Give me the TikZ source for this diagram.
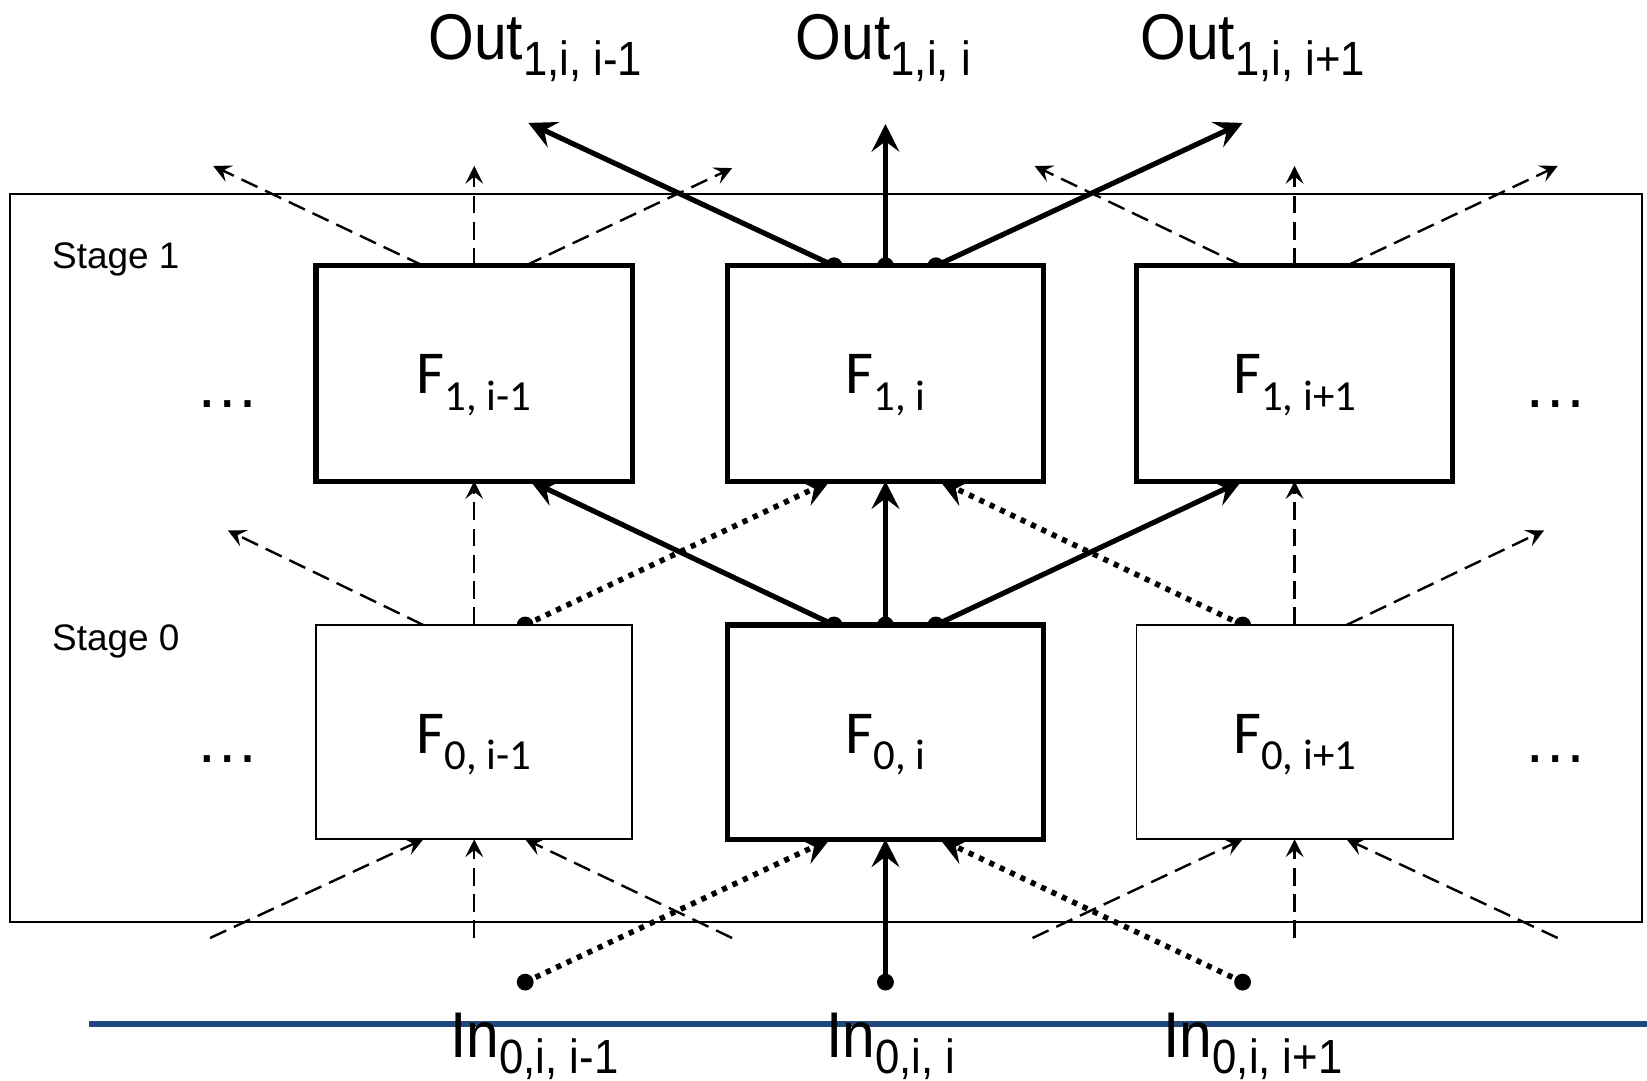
\documentclass[tikz,border=0pt]{standalone}
\usepackage{fontspec}
\usepackage{graphicx}
\setmainfont{Liberation Sans}
\newfontfamily\calibfont{Carlito}
\usetikzlibrary{arrows.meta}
\definecolor{lineblue}{HTML}{1F497D}
\newcommand\iosub[1]{\raisebox{-4.3pt}{\fontsize{13}{14}\selectfont #1}}
\newcommand\fsub[1]{\raisebox{-4.5pt}{\fontsize{11.6}{13}\selectfont #1}}
\newcommand\iotext[2]{\scalebox{0.91}[1]{#1\iosub{#2}}}
\begin{document}
\begin{tikzpicture}[x=0.01cm,y=-0.01cm,
  fnbox/.style={draw, fill=white, minimum width=3.01cm, minimum height=2.05cm, inner sep=0pt, outer sep=0pt},
  thickbox/.style={fnbox, line width=1.4pt},
  thinbox/.style={fnbox, line width=0.5pt},
  bigtip/.style={-{Stealth[length=7.5pt,width=7.5pt,inset=2.8pt]}},
  smalltip/.style={-{Stealth[length=4.8pt,width=4.8pt,inset=1.9pt]}},
  mainarr/.style={line width=1.4pt, bigtip},
  dotarr/.style={line width=1.5pt, dash pattern=on 1.4pt off 1.7pt, bigtip},
  dasharr/.style={line width=0.65pt, dash pattern=on 4.8pt off 2.3pt, smalltip},
  dotpt/.style={fill, circle, inner sep=0pt, minimum size=0.16cm},
  flab/.style={font=\calibfont\fontsize{16.5}{18}\selectfont, anchor=base, inner sep=0pt},
  iolab/.style={font=\fontsize{17.5}{20}\selectfont, anchor=base west, inner sep=0pt},
  ellip/.style={font=\fontsize{17.4}{20}\selectfont, anchor=base, inner sep=0pt},
  stagelab/.style={font=\fontsize{10}{12}\selectfont, anchor=base west, inner sep=0pt},
]
\useasboundingbox (0,0) rectangle (1568,1029);

% frame and blue line
\node[draw, line width=0.55pt, minimum width=15.53cm, minimum height=6.93cm, inner sep=0pt] (frame) at (786.5,531.5) {};
\coordinate (blL) at (85,975);
\coordinate (blR) at (1568,975);
\draw[lineblue, line width=1.8pt] (blL) -- (blR);

% ---- coordinates: stage 1 top
\coordinate (a1l) at (403,253);   \coordinate (a1m) at (451.5,253); \coordinate (a1r) at (500,253);
\coordinate (b1l) at (794,253);   \coordinate (b1m) at (843,253);   \coordinate (b1r) at (891,253);
\coordinate (c1l) at (1183,253);  \coordinate (c1m) at (1232.5,253);\coordinate (c1r) at (1282,253);
\coordinate (ta1l) at (203,158);  \coordinate (ta1m) at (451.5,158);\coordinate (ta1r) at (697,160);
\coordinate (tb1l) at (503,117);  \coordinate (tb1m) at (843,118);  \coordinate (tb1r) at (1183,117);
\coordinate (tc1l) at (985,158);  \coordinate (tc1m) at (1232.5,158);\coordinate (tc1r) at (1483,158);
% stage 1 bottom tips
\coordinate (ba1m) at (451.5,458); \coordinate (ba1r) at (505,458);
\coordinate (bb1l) at (790,458);   \coordinate (bb1m) at (843,458); \coordinate (bb1r) at (895,458);
\coordinate (bc1l) at (1182,458);  \coordinate (bc1m) at (1232.5,458);
\coordinate (ta0l) at (217,505);   \coordinate (tc0r) at (1470,505);
% stage 0 top
\coordinate (a0l) at (403,595);   \coordinate (a0m) at (451.5,595); \coordinate (a0r) at (500,595);
\coordinate (b0l) at (794,595);   \coordinate (b0m) at (843,595);   \coordinate (b0r) at (891,595);
\coordinate (c0l) at (1183,595);  \coordinate (c0m) at (1232.5,595);\coordinate (c0r) at (1282,595);
% stage 0 bottom tips
\coordinate (ba0l) at (403,799);  \coordinate (ba0m) at (451.5,799); \coordinate (ba0r) at (500,799);
\coordinate (bb0l) at (790,799);  \coordinate (bb0m) at (843,799);   \coordinate (bb0r) at (895,799);
\coordinate (bc0l) at (1183,799); \coordinate (bc0m) at (1232.5,799);\coordinate (bc0r) at (1282,799);
% bottom sources
\coordinate (sa0l) at (200,893);  \coordinate (sa0m) at (451.5,893); \coordinate (sa0r) at (697,893);
\coordinate (sc0l) at (983,893);  \coordinate (sc0m) at (1232.5,893);\coordinate (sc0r) at (1483,893);
\coordinate (inL) at (500,935);   \coordinate (inM) at (843,935);    \coordinate (inR) at (1183,935);

% ---- dashed arrows
\draw[dasharr] (a1l) -- (ta1l);
\draw[dasharr] (a1m) -- (ta1m);
\draw[dasharr] (a1r) -- (ta1r);
\draw[dasharr] (c1l) -- (tc1l);
\draw[dasharr] (c1m) -- (tc1m);
\draw[dasharr] (c1r) -- (tc1r);
\draw[dasharr] (a0l) -- (ta0l);
\draw[dasharr] (a0m) -- (ba1m);
\draw[dasharr] (c0m) -- (bc1m);
\draw[dasharr] (c0r) -- (tc0r);
\draw[dasharr] (sa0l) -- (ba0l);
\draw[dasharr] (sa0m) -- (ba0m);
\draw[dasharr] (sa0r) -- (ba0r);
\draw[dasharr] (sc0l) -- (bc0l);
\draw[dasharr] (sc0m) -- (bc0m);
\draw[dasharr] (sc0r) -- (bc0r);

% ---- main solid arrows
\draw[mainarr] (b1l) -- (tb1l);
\draw[mainarr] (b1m) -- (tb1m);
\draw[mainarr] (b1r) -- (tb1r);
\draw[mainarr] (b0l) -- (ba1r);
\draw[mainarr] (b0m) -- (bb1m);
\draw[mainarr] (b0r) -- (bc1l);
\draw[mainarr] (inM) -- (bb0m);

% ---- dotted arrows
\draw[dotarr] (a0r) -- (bb1l);
\draw[dotarr] (c0l) -- (bb1r);
\draw[dotarr] (inL) -- (bb0l);
\draw[dotarr] (inR) -- (bb0r);

% ---- dots
\foreach \p in {b1l,b1m,b1r,a0r,b0l,b0m,b0r,c0l,inL,inM,inR}
  \node[dotpt] at (\p) {};

% ---- boxes
\node[thickbox] (F1a) at (451.5,355.5) {};
\node[thickbox] (F1b) at (843,355.5) {};
\node[thickbox] (F1c) at (1232.5,355.5) {};
\node[thinbox, minimum height=2.04cm] (F0a) at (451.5,697) {};
\node[thickbox, minimum height=2.04cm] (F0b) at (843,697) {};
\node[thinbox, minimum height=2.04cm] (F0c) at (1232.5,697) {};

% ---- box labels
\node[flab] (lF1a) at (451.5,375) {F\fsub{1, i-1}};
\node[flab] (lF1b) at (843,375) {F\fsub{1, i}};
\node[flab] (lF1c) at (1232.5,375) {F\fsub{1, i+1}};
\node[flab] (lF0a) at (451.5,717) {F\fsub{0, i-1}};
\node[flab] (lF0b) at (843,717) {F\fsub{0, i}};
\node[flab] (lF0c) at (1232.5,717) {F\fsub{0, i+1}};

% ---- ellipses
\node[ellip] (e1) at (217,388) {…};
\node[ellip] (e2) at (1481,388) {…};
\node[ellip] (e3) at (217,726) {…};
\node[ellip] (e4) at (1481,726) {…};

% ---- stage labels
\node[stagelab] (s1) at (49,256) {Stage 1};
\node[stagelab] (s0) at (49,619.5) {Stage 0};

% ---- outputs / inputs
\node[iolab] (o1) at (407,57) {\iotext{Out}{1,i, i-1}};
\node[iolab] (o2) at (757,57) {\iotext{Out}{1,i, i}};
\node[iolab] (o3) at (1085,57) {\iotext{Out}{1,i, i+1}};
\node[iolab] (i1) at (428,1007) {\iotext{In}{0,i, i-1}};
\node[iolab] (i2) at (786,1007) {\iotext{In}{0,i, i}};
\node[iolab] (i3) at (1107,1007) {\iotext{In}{0,i, i+1}};
\end{tikzpicture}
\end{document}
